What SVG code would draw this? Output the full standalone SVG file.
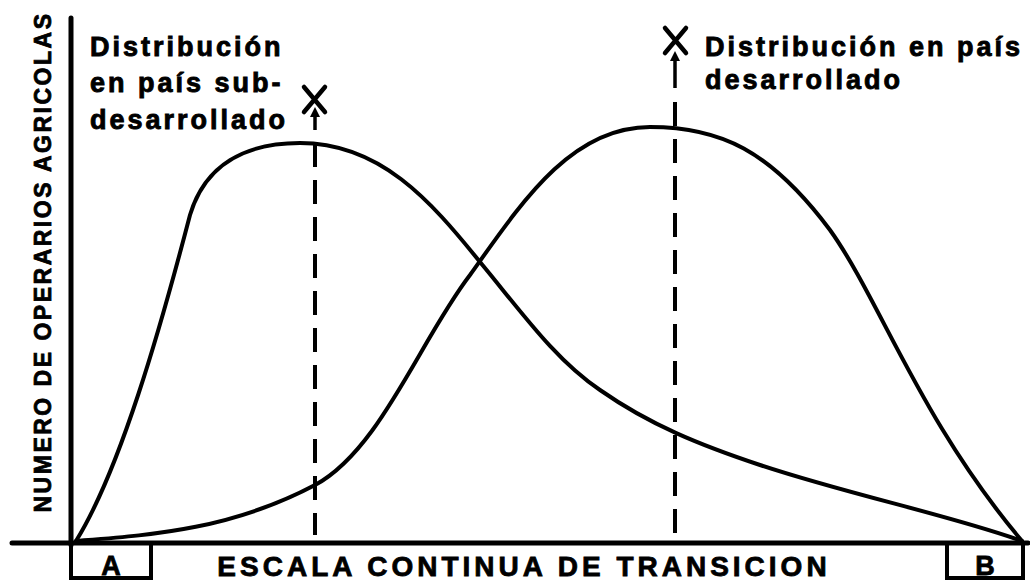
<svg xmlns="http://www.w3.org/2000/svg" width="1030" height="583" viewBox="0 0 1030 583">
<defs>
<style>
.ax{stroke:#000;stroke-width:5;fill:none;stroke-linecap:round}
.cv{stroke:#000;stroke-width:4;fill:none;stroke-linecap:round}
.dash{stroke:#000;stroke-width:4;fill:none;stroke-dasharray:24 13}
.lbl{font-family:"Liberation Sans",Arial,sans-serif;font-weight:bold;font-size:27px;letter-spacing:3px;fill:#000;stroke:#000;stroke-width:0.9px}
.ttl{font-family:"Liberation Sans",Arial,sans-serif;font-weight:bold;fill:#000;stroke:#000;stroke-width:0.8px}
</style>
<marker id="ah" markerWidth="10" markerHeight="10" refX="5" refY="5" orient="auto" markerUnits="userSpaceOnUse">
<path d="M0,0 L10,5 L0,10 z" fill="#000"/>
</marker>
</defs>
<rect width="1030" height="583" fill="#fff"/>
<g id="axes">
<line class="ax" x1="71" y1="18" x2="71" y2="545"/>
<line class="ax" x1="12" y1="543" x2="1028" y2="543"/>
<text class="ttl" font-size="23" letter-spacing="2.5" transform="translate(51,262) rotate(-90)" text-anchor="middle">NUMERO DE OPERARIOS AGRICOLAS</text>
<text class="ttl" font-size="28" letter-spacing="4" x="524" y="576" text-anchor="middle">ESCALA CONTINUA DE TRANSICION</text>
</g>
<g id="nodeA">
<rect x="71" y="543" width="80" height="35" fill="none" stroke="#000" stroke-width="4"/>
<text class="ttl" font-size="27" x="111" y="575" text-anchor="middle">A</text>
</g>
<g id="nodeB">
<rect x="947" y="543" width="76" height="35" fill="none" stroke="#000" stroke-width="4"/>
<text class="ttl" font-size="27" x="985" y="575" text-anchor="middle">B</text>
</g>
<g id="connectors">
<path class="cv" d="M76,541 C120,470 160,330 190,215 C205,165 245,143 300,143 C380,143 430,200 480,262 C520,310 555,360 600,390 C650,425 700,445 760,465 C850,495 950,515 1022,541"/>
<path class="cv" d="M76,541 C150,535 230,530 315,485 C380,450 420,340 470,275 C520,205 570,127 650,127 C720,127 770,150 830,230 C880,300 920,420 1022,541"/>
<line class="dash" x1="315" y1="143" x2="315" y2="535"/>
<line class="dash" x1="675" y1="102" x2="675" y2="535"/>
<line stroke="#000" stroke-width="3.5" x1="315" y1="130" x2="315" y2="112" marker-end="url(#ah)"/>
<line stroke="#000" stroke-width="3.5" x1="675" y1="88" x2="675" y2="56" marker-end="url(#ah)"/>
</g>
<g id="markX1">
<path d="M304,87 L325,112 M325,87 L304,112" stroke="#000" stroke-width="4.5" stroke-linecap="round"/>
</g>
<g id="markX2">
<path d="M665,28 L686,53 M686,28 L665,53" stroke="#000" stroke-width="4.5" stroke-linecap="round"/>
</g>
<g id="label1">
<text class="lbl" x="90" y="56">Distribución</text>
<text class="lbl" x="90" y="92">en país sub-</text>
<text class="lbl" x="90" y="129">desarrollado</text>
</g>
<g id="label2">
<text class="lbl" x="705" y="56">Distribución en país</text>
<text class="lbl" x="705" y="89">desarrollado</text>
</g>
</svg>
